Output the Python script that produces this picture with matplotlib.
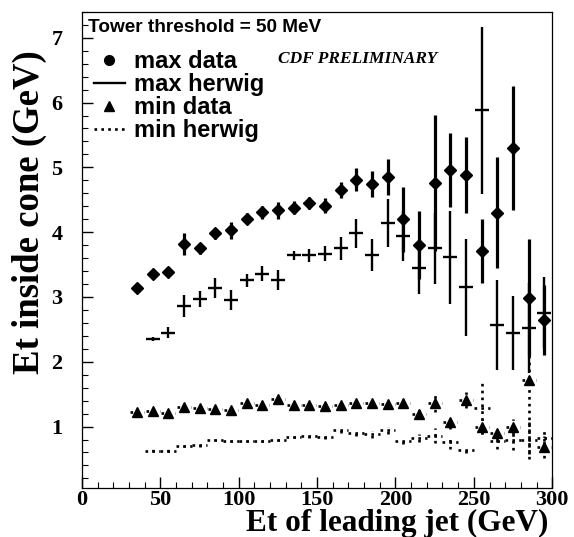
import matplotlib
matplotlib.use("Agg")
import matplotlib.pyplot as plt
from matplotlib.lines import Line2D
from matplotlib.ticker import MultipleLocator

# bin centres of the leading jet Et (GeV)
et_bins = [35, 45, 55, 65, 75, 85, 95, 105, 115, 125, 135, 145, 155, 165,
           175, 185, 195, 205, 215, 225, 235, 245, 255, 265, 275, 285, 295]

# max cone, data
max_data = [3.14, 3.35, 3.39, 3.82, 3.75, 3.98, 4.03, 4.21, 4.31, 4.34, 4.38, 4.45, 4.41, 4.65,
            4.81, 4.74, 4.85, 4.20, 3.80, 4.76, 4.96, 4.88, 3.71, 4.30, 5.30, 2.99, 2.65]
max_data_err = [0.05, 0.06, 0.07, 0.17, 0.08, 0.09, 0.13, 0.09, 0.10, 0.13, 0.10, 0.10, 0.11, 0.12,
                0.18, 0.20, 0.28, 0.50, 0.52, 1.05, 0.57, 0.59, 0.50, 0.86, 0.96, 0.90, 0.54]

# max cone, herwig (starts at 45 GeV)
herwig_bins = et_bins[1:]
max_herwig = [2.35, 2.45, 2.86, 2.97, 3.14, 2.95, 3.26, 3.36, 3.26, 3.64, 3.64, 3.67, 3.75,
              3.98, 3.65, 4.14, 3.94, 3.44, 3.75, 3.61, 3.15, 5.88, 2.57, 2.44, 2.52, 2.76]
max_herwig_err = [0.03, 0.08, 0.17, 0.12, 0.15, 0.15, 0.10, 0.12, 0.15, 0.07, 0.10, 0.12, 0.18,
                  0.23, 0.25, 0.37, 0.39, 0.40, 0.55, 0.72, 0.75, 1.29, 0.69, 0.57, 0.70, 0.55]

# min cone, data
min_data = [1.22, 1.24, 1.21, 1.30, 1.28, 1.27, 1.25, 1.37, 1.34, 1.42, 1.34, 1.34, 1.32, 1.33,
            1.37, 1.37, 1.35, 1.37, 1.19, 1.37, 1.07, 1.41, 1.00, 0.90, 1.00, 1.72, 0.69]
min_data_err = [0.03, 0.03, 0.03, 0.03, 0.03, 0.03, 0.03, 0.03, 0.03, 0.03, 0.03, 0.03, 0.03, 0.03,
                0.04, 0.04, 0.04, 0.05, 0.08, 0.14, 0.10, 0.12, 0.12, 0.10, 0.12, 1.15, 0.17]

# min cone, herwig
min_herwig = [0.63, 0.63, 0.70, 0.71, 0.79, 0.78, 0.78, 0.78, 0.79, 0.84, 0.85, 0.84, 0.95,
              0.90, 0.88, 0.94, 0.78, 0.82, 0.86, 0.76, 0.64, 1.28, 0.77, 0.79, 0.80, 0.82]
min_herwig_err = [0.02, 0.02, 0.02, 0.02, 0.02, 0.02, 0.02, 0.02, 0.02, 0.02, 0.02, 0.03, 0.05,
                  0.05, 0.05, 0.05, 0.05, 0.06, 0.12, 0.10, 0.05, 0.40, 0.12, 0.15, 0.30, 0.15]

serif = "Liberation Serif"
sans = "Liberation Sans"
dots = (0, (1, 1.6))

fig = plt.figure(figsize=(5.74, 5.37), dpi=100)
ax = fig.add_axes([0.143, 0.091, 0.819, 0.887])

ax.errorbar(et_bins, max_data, yerr=max_data_err, xerr=3, fmt="D", color="k",
            markersize=6.5, elinewidth=2.3, capsize=0)
ax.errorbar(herwig_bins, max_herwig, yerr=max_herwig_err, xerr=4.5, fmt="none",
            ecolor="k", elinewidth=1.7, capsize=0)
md = ax.errorbar(et_bins, min_data, yerr=min_data_err, xerr=4.5, fmt="^", color="k",
                 markersize=6.5, elinewidth=1.9, capsize=0)
for c in md[2]:
    c.set_linestyle(dots)
mh = ax.errorbar(herwig_bins, min_herwig, yerr=min_herwig_err, xerr=5, fmt="none",
                 ecolor="k", elinewidth=1.9, capsize=0)
for c in mh[2]:
    c.set_linestyle(dots)

ax.set_xlim(0, 300)
ax.set_ylim(0.05, 7.4)
ax.xaxis.set_major_locator(MultipleLocator(50))
ax.xaxis.set_minor_locator(MultipleLocator(10))
ax.yaxis.set_major_locator(MultipleLocator(1))
ax.yaxis.set_minor_locator(MultipleLocator(0.2))
ax.tick_params(which="both", direction="in", top=False, right=False)
ax.tick_params(which="major", length=8, width=1)
ax.tick_params(which="minor", length=4, width=0.8)
ax.tick_params(axis="y", pad=14)
ax.tick_params(axis="x", pad=1)
for lab in ax.get_xticklabels() + ax.get_yticklabels():
    lab.set_fontfamily(serif)
    lab.set_fontweight("bold")
    lab.set_fontsize(16)
for s in ax.spines.values():
    s.set_linewidth(0.9)

fig.text(0.955, 0.026, "Et of leading jet (GeV)", ha="right", va="center",
         fontfamily=serif, fontweight="bold", fontsize=22.5)
fig.text(0.052, 0.605, "Et inside cone (GeV)", ha="center", va="center", rotation=90,
         fontfamily=serif, fontweight="bold", fontsize=26.5)

ax.text(0.012, 0.985, "Tower threshold = 50 MeV", transform=ax.transAxes, ha="left", va="top",
        fontfamily=sans, fontweight="bold", fontsize=13.7)
ax.text(0.417, 0.9, "CDF PRELIMINARY", transform=ax.transAxes, ha="left", va="center",
        fontfamily=serif, fontweight="bold", style="italic", fontsize=12.5)

handles = [
    Line2D([], [], color="k", marker="o", linestyle="none", markersize=7),
    Line2D([], [], color="k", linestyle="-", linewidth=1.7),
    Line2D([], [], color="k", marker="^", linestyle="none", markersize=7),
    Line2D([], [], color="k", linestyle=dots, linewidth=1.9),
]
labels = ["max data", "max herwig", "min data", "min herwig"]
ax.legend(handles, labels, loc="upper left", bbox_to_anchor=(0.025, 0.92), frameon=False,
          prop={"family": sans, "weight": "bold", "size": 17}, handlelength=1.3,
          handletextpad=0.4, labelspacing=0.0, borderpad=0, borderaxespad=0)

fig.savefig("out.png", dpi=100)
